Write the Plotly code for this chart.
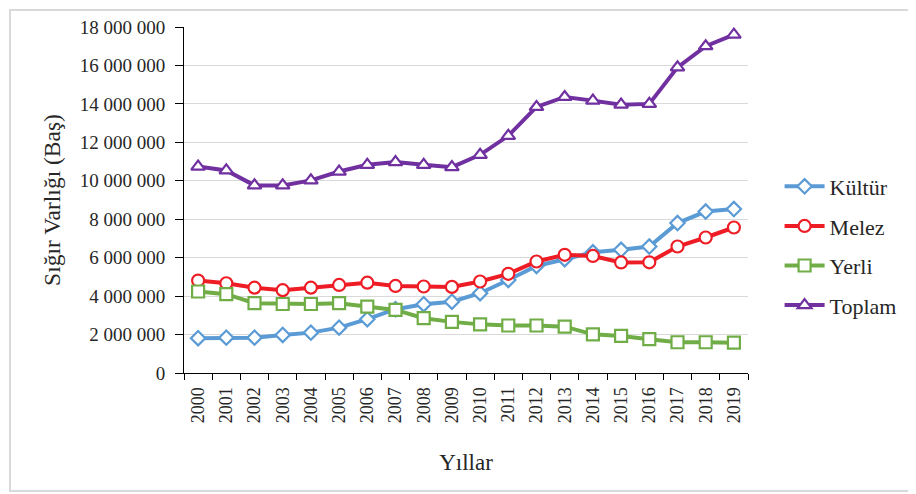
import plotly.graph_objects as go

years = [str(y) for y in range(2000, 2020)]
kultur = [1810000, 1840000, 1840000, 1980000, 2100000, 2360000, 2800000, 3320000, 3580000, 3710000,
          4150000, 4840000, 5570000, 5920000, 6280000, 6410000, 6580000, 7800000, 8400000, 8530000]
melez = [4810000, 4670000, 4440000, 4310000, 4440000, 4580000, 4700000, 4530000, 4500000, 4480000,
         4760000, 5160000, 5800000, 6150000, 6090000, 5750000, 5760000, 6580000, 7050000, 7570000]
yerli = [4240000, 4100000, 3630000, 3590000, 3590000, 3630000, 3450000, 3280000, 2850000, 2660000,
         2530000, 2470000, 2470000, 2410000, 2010000, 1930000, 1760000, 1600000, 1600000, 1580000]
toplam = [10740000, 10540000, 9760000, 9760000, 10020000, 10480000, 10830000, 10970000, 10830000, 10710000,
          11350000, 12340000, 13840000, 14360000, 14170000, 13960000, 14000000, 15900000, 17000000, 17600000]

series = [
    ("Kültür", kultur, "#5B9BD5", "diamond", 11),
    ("Melez", melez, "#EE1C25", "circle", 12),
    ("Yerli", yerli, "#70AD47", "square", 12),
    ("Toplam", toplam, "#7030A0", "triangle-up", 12),
]

FONT = "Liberation Serif"
TXT = "#262626"
fig = go.Figure()
for i, (name, vals, col, sym, sz) in enumerate(series):
    fig.add_trace(go.Scatter(
        x=years, y=vals, name=name, mode="lines+markers",
        line=dict(color=col, width=4),
        marker=dict(symbol=sym, size=sz, color="white", line=dict(color=col, width=2.2)),
        legendgroup=name,
    ))

# page body has an 8px default margin, so plot-area margins are offset by 8px
fig.update_layout(
    width=916, height=494,
    paper_bgcolor="white", plot_bgcolor="white",
    margin=dict(l=176, r=176, t=19, b=129),
    separators=", ",
    font=dict(family=FONT, color=TXT),
    showlegend=True,
    legend=dict(x=1.056, y=0.367, xanchor="left", yanchor="middle",
                font=dict(family=FONT, size=22, color=TXT),
                tracegroupgap=8, itemwidth=40, bgcolor="rgba(0,0,0,0)"),
    xaxis=dict(type="category", range=[-0.5, 19.5], automargin=False,
               showline=True, linecolor="black", linewidth=1,
               ticks="outside", ticklen=6, tickcolor="black", tickson="boundaries",
               tickangle=-90, tickfont=dict(family=FONT, size=18, color=TXT),
               ticklabelstandoff=6, showgrid=False,
               title=dict(text="Yıllar", font=dict(family=FONT, size=23, color=TXT), standoff=31)),
    yaxis=dict(range=[0, 18000000], dtick=2000000, tickformat=",d", automargin=False,
               showline=True, linecolor="black", linewidth=1, ticks="outside", ticklen=8, tickcolor="black",
               tickfont=dict(family=FONT, size=19, color=TXT), ticklabelstandoff=6,
               showgrid=True, gridcolor="#D9D9D9", gridwidth=1, zeroline=False,
               title=dict(text="Sığır Varlığı (Baş)", font=dict(family=FONT, size=23.5, color=TXT), standoff=12)),
    shapes=[dict(type="rect", xref="paper", yref="paper",
                 x0=(10 - 184) / 564, x1=(925 - 184) / 564,
                 y0=(373 - 491) / 346, y1=(373 - 10) / 346,
                 line=dict(color="#D9D9D9", width=2), fillcolor="rgba(0,0,0,0)", layer="below")],
)

fig.write_html("out.html")
